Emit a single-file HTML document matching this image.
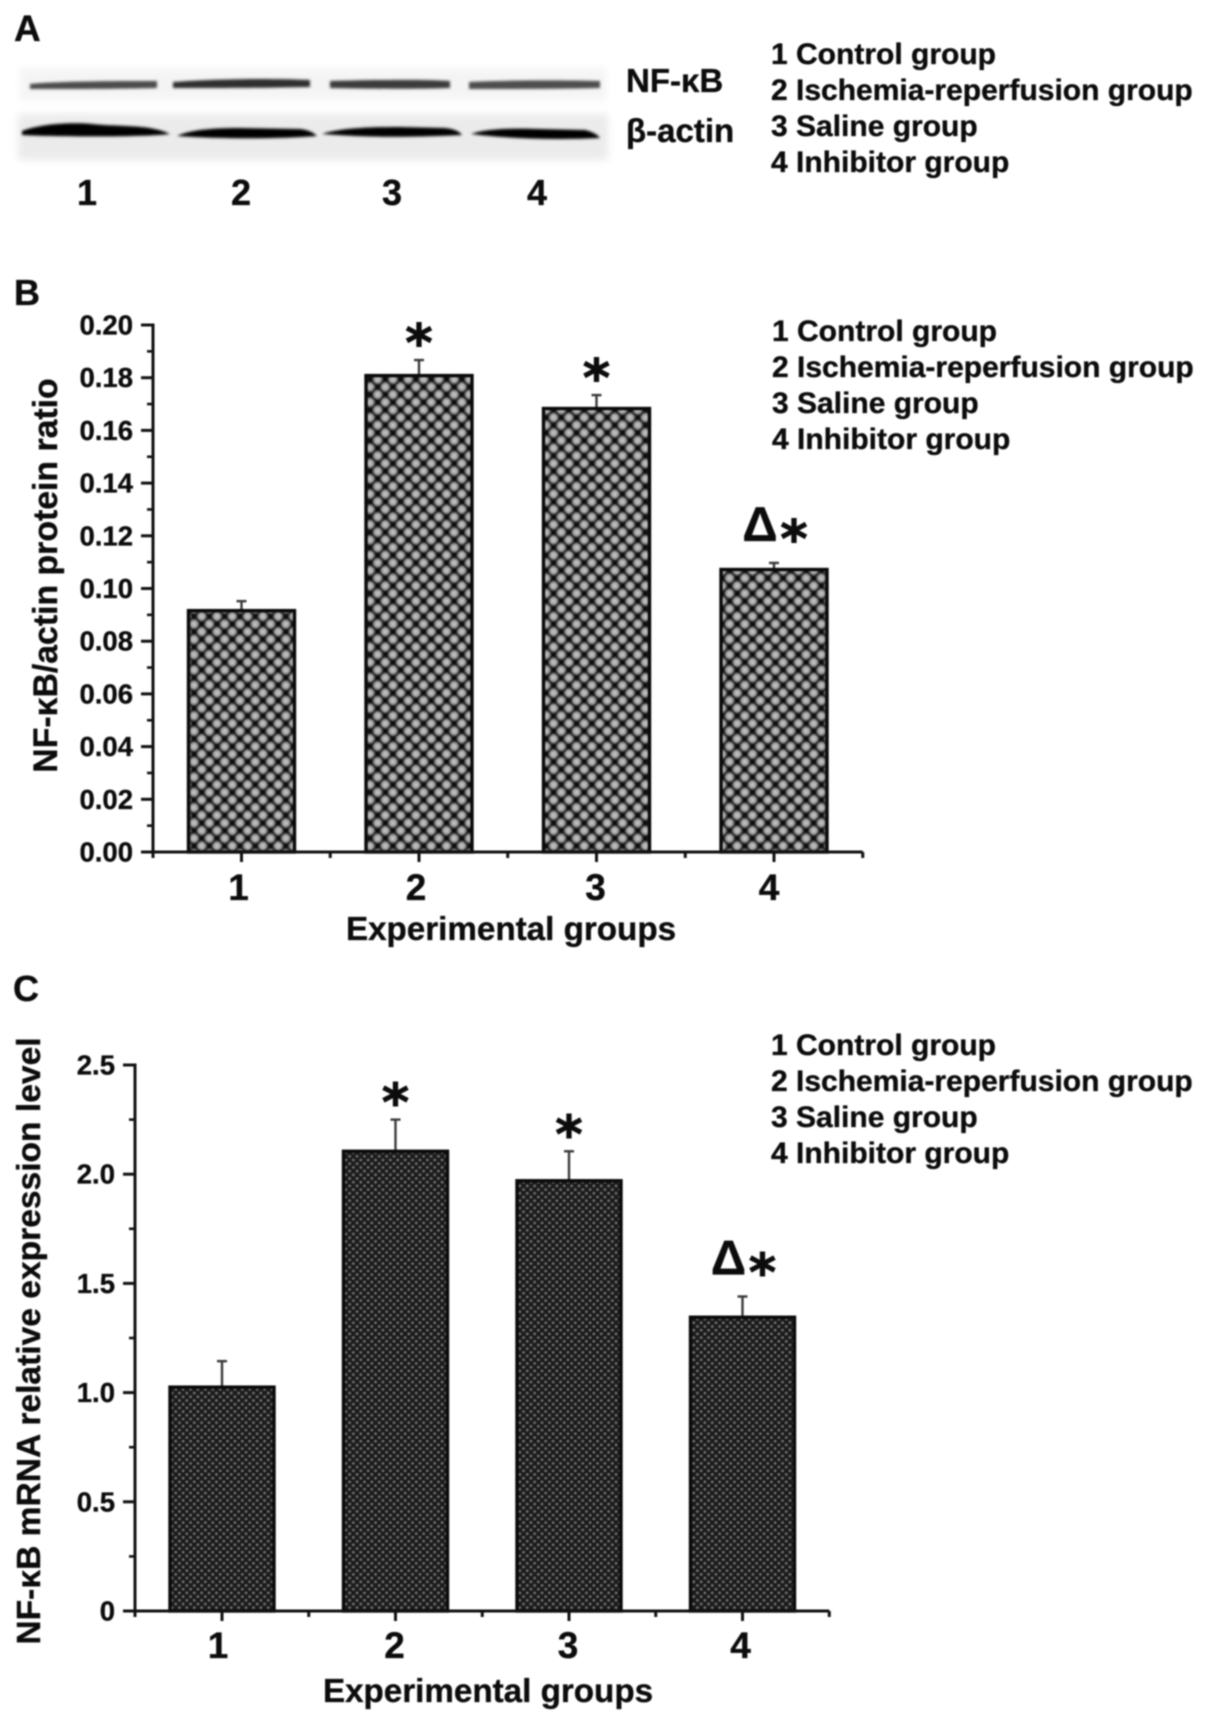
<!DOCTYPE html>
<html lang="en">
<head>
<meta charset="utf-8">
<title>NF-κB expression figure</title>
<style>
html,body{margin:0;padding:0;background:#fff;width:1205px;height:1722px;overflow:hidden}
svg{display:block;filter:blur(0.7px)}
text{font-family:"Liberation Sans",sans-serif;font-weight:bold;fill:#0c0c0c;stroke:#0c0c0c;stroke-width:.35px}
</style>
</head>
<body>
<svg id="figure" xmlns="http://www.w3.org/2000/svg" width="1205" height="1722" viewBox="0 0 1205 1722">
  <defs>
    <radialGradient id="blob">
      <stop offset="0" stop-color="#c8c8c8"/>
      <stop offset="0.5" stop-color="#a4a4a4"/>
      <stop offset="1" stop-color="#0c0c0c"/>
    </radialGradient>
    <pattern id="lattice" patternUnits="userSpaceOnUse" width="15.3" height="15.3" patternTransform="translate(10.45 12.05)">
      <rect width="15.3" height="15.3" fill="#0c0c0c"/>
      <circle cx="7.65" cy="7.65" r="6.1" fill="url(#blob)"/>
      <circle cx="0" cy="0" r="6.1" fill="url(#blob)"/>
      <circle cx="15.3" cy="0" r="6.1" fill="url(#blob)"/>
      <circle cx="0" cy="15.3" r="6.1" fill="url(#blob)"/>
      <circle cx="15.3" cy="15.3" r="6.1" fill="url(#blob)"/>
    </pattern>
    <pattern id="dots" patternUnits="userSpaceOnUse" width="7.4" height="7.4">
      <rect width="7.4" height="7.4" fill="#1b1b1b"/>
      <circle cx="1.85" cy="1.85" r="1.4" fill="#727272"/>
      <circle cx="5.55" cy="5.55" r="1.4" fill="#727272"/>
    </pattern>
    <filter id="blot-blur" x="-10%" y="-50%" width="120%" height="200%"><feGaussianBlur stdDeviation="4"/></filter>
    <filter id="band-blur" x="-10%" y="-100%" width="120%" height="300%"><feGaussianBlur stdDeviation="1.3"/></filter>
  </defs>

  <g id="panel-a">
    <text x="14" y="41" font-size="37">A</text>
    <rect x="20" y="68" width="586" height="32" fill="#f4f4f4" filter="url(#blot-blur)"/>
    <rect x="18" y="114" width="590" height="46" fill="#ebebeb" filter="url(#blot-blur)"/>
    <g filter="url(#band-blur)">
      <path d="M30,84 C60,81 120,81 157,81 L157,88 C120,89 60,89 30,89 Z" fill="#4c4c4c"/>
      <path d="M173,82 C210,79 270,78 310,80 L310,87 C270,88 210,88 173,88 Z" fill="#2e2e2e"/>
      <path d="M330,81 C370,80 420,79 450,81 L450,88 C420,89 370,89 330,88 Z" fill="#3a3a3a"/>
      <path d="M469,82 C510,80 560,80 600,81 L600,88 C560,89 510,89 469,89 Z" fill="#4e4e4e"/>
    </g>
    <g filter="url(#band-blur)">
      <path d="M22,131 C40,124 70,122 92,124 C120,127 150,124 170,134 C150,137 60,137 22,135 Z" fill="#030303"/>
      <path d="M177,136 C190,130 210,128 240,128 L300,129 C310,130 315,134 317,136 C280,139 220,139 177,136 Z" fill="#050505"/>
      <path d="M322,134 C340,128 370,127 400,127 L445,128 C455,129 460,132 462,135 C420,137 370,138 322,134 Z" fill="#050505"/>
      <path d="M471,134 C485,129 510,128 540,129 L585,130 C593,132 598,135 600,138 C560,140 510,139 471,134 Z" fill="#050505"/>
    </g>
    <text x="626" y="92" font-size="33">NF-κB</text>
    <text x="626" y="142" font-size="33">β-actin</text>
    <text x="87" y="205" font-size="36" text-anchor="middle">1</text>
    <text x="241" y="205" font-size="36" text-anchor="middle">2</text>
    <text x="392" y="205" font-size="36" text-anchor="middle">3</text>
    <text x="537" y="205" font-size="36" text-anchor="middle">4</text>
  </g>

  <g font-size="30">
    <text x="771" y="64">1 Control group</text>
    <text x="771" y="100">2 Ischemia-reperfusion group</text>
    <text x="771" y="136">3 Saline group</text>
    <text x="771" y="172">4 Inhibitor group</text>
  </g>
  <g font-size="30">
    <text x="772" y="341">1 Control group</text>
    <text x="772" y="377">2 Ischemia-reperfusion group</text>
    <text x="772" y="413">3 Saline group</text>
    <text x="772" y="449">4 Inhibitor group</text>
  </g>
  <g font-size="30">
    <text x="771" y="1055">1 Control group</text>
    <text x="771" y="1091">2 Ischemia-reperfusion group</text>
    <text x="771" y="1127">3 Saline group</text>
    <text x="771" y="1163">4 Inhibitor group</text>
  </g>

  <text x="14" y="305" font-size="36">B</text>
  <text x="13" y="1001" font-size="36">C</text>
  <g id="chart-b"></g>
  <g id="chart-c"></g>
</svg>

<script>
const categories = ["1", "2", "3", "4"];
const annotations = ["", "*", "*", "Δ*"];

const proteinRatio = [0.0916, 0.1808, 0.1683, 0.1072];
const proteinError = [0.0036, 0.0059, 0.0051, 0.0025];
const proteinTicks = ["0.00", "0.02", "0.04", "0.06", "0.08", "0.10", "0.12", "0.14", "0.16", "0.18", "0.20"];

const mrnaLevel = [1.025, 2.105, 1.97, 1.345];
const mrnaError = [0.119, 0.145, 0.135, 0.095];
const mrnaTicks = ["0", "0.5", "1.0", "1.5", "2.0", "2.5"];

const SVG_NS = "http://www.w3.org/2000/svg";

function make(parent, tag, props, text) {
  const node = document.createElementNS(SVG_NS, tag);
  for (const key in props) node.setAttribute(key, props[key]);
  if (text !== undefined) node.textContent = text;
  parent.appendChild(node);
  return node;
}

function drawChart(root, o) {
  const tickValues = o.tickLabels.map(Number);
  const yMax = Math.max.apply(null, tickValues);
  const y = function (v) { return o.y0 - (v / yMax) * (o.y0 - o.yTop); };
  const x = function (i) { return o.x1 + i * o.step; };
  const xEnd = x(categories.length - 1) + o.step / 2;

  categories.forEach(function (cat, i) {
    const top = y(o.values[i]);
    const errTop = y(o.values[i] + o.errors[i]);

    const whisker = make(root, "line", { x1: x(i), x2: x(i), y1: top, y2: errTop, stroke: "#3a3a3a", "stroke-width": 2.4 });
    
    

    const cap = make(root, "line", { x1: x(i) - 5, x2: x(i) + 5, y1: errTop, y2: errTop, stroke: "#3a3a3a", "stroke-width": 2.4 });
    
    

    const bar = make(root, "rect", { x: x(i) - o.barWidth / 2 + o.barShift, y: top, width: o.barWidth, height: o.y0 - top, fill: "url(#" + o.pattern + ")", stroke: "#0a0a0a", "stroke-width": 3.4 });
    
    

    const label = make(root, "text", { x: x(i) + o.labelNudge[i], y: o.xLabelY, "font-size": 37, "text-anchor": "middle" }, cat);
    
    

    const xTick = make(root, "line", { x1: x(i), x2: x(i), y1: o.y0, y2: o.y0 + 10, stroke: "#111", "stroke-width": 3 });
    
    

    const xMinor = make(root, "line", { x1: x(i) + o.step / 2, x2: x(i) + o.step / 2, y1: o.y0, y2: o.y0 + 6, stroke: "#111", "stroke-width": 3 });
    
    

    const mark = annotations[i];
    if (mark === "*") {
      const star = make(root, "text", { x: x(i), y: errTop - 26 + 27, "font-size": 52, "text-anchor": "middle", style: "font-family:'DejaVu Sans',sans-serif;stroke-width:1px" }, "*");
      
      
    } else if (mark) {
      const delta = make(root, "text", { x: x(i) - 14, y: errTop - 22, "font-size": 49, "text-anchor": "middle" }, mark.charAt(0));
      
      
      const star2 = make(root, "text", { x: x(i) + 20, y: errTop - 33 + 27, "font-size": 52, "text-anchor": "middle", style: "font-family:'DejaVu Sans',sans-serif;stroke-width:1px" }, mark.charAt(1));
      
      
    }
  });

  const yAxis = make(root, "line", { x1: o.xAxis, x2: o.xAxis, y1: o.yTop - 1.5, y2: o.y0 + 6, stroke: "#111", "stroke-width": 3 });
  
  

  const xAxis = make(root, "line", { x1: o.xAxis - 12, x2: xEnd, y1: o.y0, y2: o.y0, stroke: "#111", "stroke-width": 3 });
  
  

  o.tickLabels.forEach(function (lab, i) {
    const v = tickValues[i];
    const tick = make(root, "line", { x1: o.xAxis - 12, x2: o.xAxis, y1: y(v), y2: y(v), stroke: "#111", "stroke-width": 3 });
    
    

    const text = make(root, "text", { x: o.yLabelX, y: y(v) + 9.5, "font-size": 27.5, "text-anchor": "end" }, lab);
    
    

    if (i < o.tickLabels.length - 1) {
      const mid = (v + tickValues[i + 1]) / 2;
      const minor = make(root, "line", { x1: o.xAxis - 6, x2: o.xAxis, y1: y(mid), y2: y(mid), stroke: "#111", "stroke-width": 2.6 });
      
      
    }
  });

  const yTitle = make(root, "text", { transform: "translate(" + o.yTitleX + " " + o.yTitleY + ") rotate(-90)", "font-size": o.yTitleSize, "text-anchor": "middle" }, o.yTitle);
  
  

  const xTitle = make(root, "text", { x: o.xTitleX, y: o.xTitleY, "font-size": 33.2, "text-anchor": "middle" }, "Experimental groups");
  
  
}

drawChart(document.getElementById("chart-b"), {
  values: proteinRatio, errors: proteinError, tickLabels: proteinTicks,
  pattern: "lattice", xAxis: 153, x1: 241.5, step: 177.5, barWidth: 106, barShift: 0,
  y0: 852, yTop: 325, xLabelY: 900, yLabelX: 133, labelNudge: [-3, -3, -1, -5],
  yTitle: "NF-κB/actin protein ratio", yTitleX: 57, yTitleY: 575.5, yTitleSize: 33.8,
  xTitleX: 511, xTitleY: 940
});

drawChart(document.getElementById("chart-c"), {
  values: mrnaLevel, errors: mrnaError, tickLabels: mrnaTicks,
  pattern: "dots", xAxis: 135, x1: 222, step: 173.5, barWidth: 104, barShift: 0,
  y0: 1611, yTop: 1065, xLabelY: 1658, yLabelX: 115, labelNudge: [-4, -1, -1, -2],
  yTitle: "NF-κB mRNA relative expression level", yTitleX: 40, yTitleY: 1341, yTitleSize: 33.6,
  xTitleX: 488, xTitleY: 1702
});
</script>
</body>
</html>
